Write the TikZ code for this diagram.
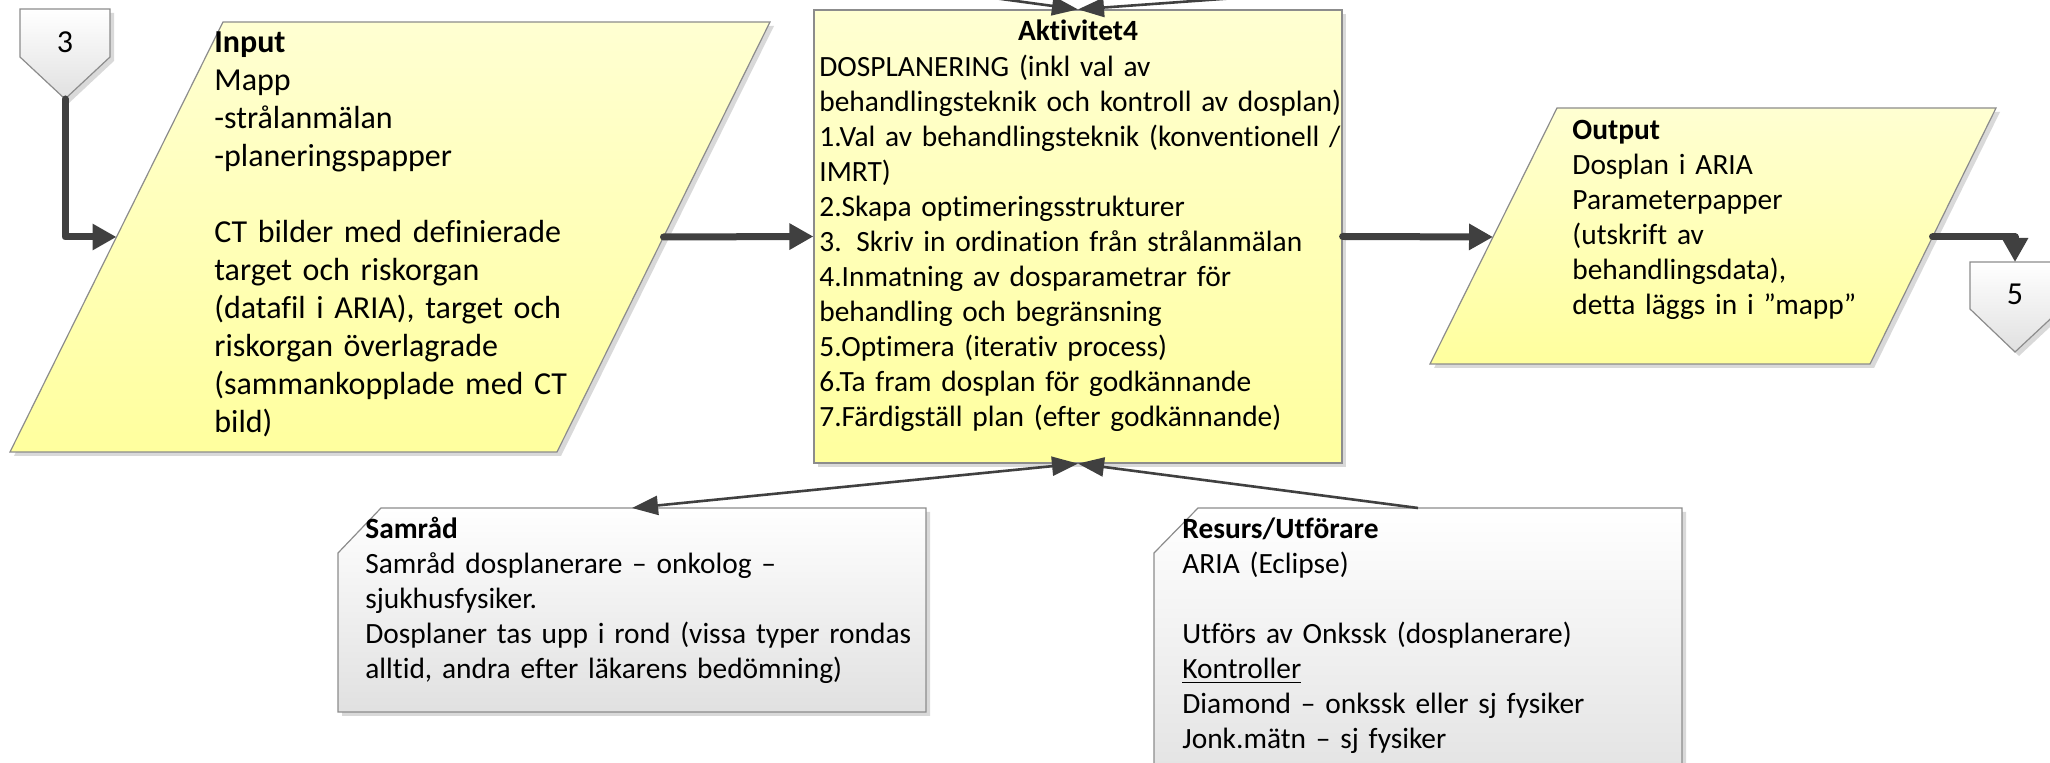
\documentclass[tikz,border=0pt]{standalone}
\usepackage{fontspec}
\setmainfont{Carlito}[Ligatures=NoCommon]
\usetikzlibrary{arrows.meta}
\usetikzlibrary{shadows}
\definecolor{flowgray}{HTML}{404040}
\definecolor{ytop}{HTML}{FFFFD2}
\definecolor{ybot}{HTML}{FFFF9E}
\definecolor{rimgray}{HTML}{8C8C8C}

\begin{document}
\begin{tikzpicture}[x=0.5pt, y=-0.5pt,
        shadowed/.style={drop shadow={shadow xshift=2pt, shadow yshift=-2pt, fill=black!15, opacity=1}},
        yellowshape/.style={shadowed, draw=rimgray, line width=0.6pt, top color=ytop, bottom color=ybot},
        grayshape/.style={shadowed, draw=rimgray, line width=0.6pt, top color=white, bottom color=black!12},
        txt/.style={anchor=base west, inner sep=0pt, align=left, text width=300pt,
                    font=\fontsize{14.7}{17.5}\selectfont},
        bigtxt/.style={txt, font=\fontsize{16}{19}\selectfont},
        nrtxt/.style={anchor=base, inner sep=0pt, font=\fontsize{16}{19}\selectfont},
        flow/.style={draw=flowgray, line width=3.5pt, line cap=round, line join=round,
                     -{Triangle[length=12pt,width=12.5pt]}},
        link/.style={draw=flowgray, line width=1.3pt, >={Triangle[length=13pt,width=9.5pt]}, ->}]

    \useasboundingbox (0,0) rectangle (2050,763);
    \clip (0,0) rectangle (2050,763);

    % off-page connectors
    \coordinate (srcL) at (713,-40);
    \coordinate (srcR) at (1763,-40);

    % connector pentagons
    \draw[grayshape] (20,9) -- (110,9) -- (110,57) -- (65,99) -- (20,57) -- cycle;
    \node[nrtxt] (nr3) at (65,53) {3};
    \coordinate (p3) at (65,99);

    \draw[grayshape] (1970,262) -- (2061,262) -- (2061,309) -- (2015,352) -- (1970,309) -- cycle;
    \node[nrtxt] (nr5) at (2015,305) {5};
    \coordinate (p5) at (2015,262);

    % input
    \draw[yellowshape] (223,22) -- (770,22) -- (557,452) -- (10,452) -- cycle;
    \coordinate (in-w) at (116.5,237);
    \coordinate (in-e) at (663.5,237);
    \node[bigtxt] (input) at (214,53) {\textbf{Input}\\ Mapp\\ -strålanmälan\\ -planeringspapper\\ \mbox{}\\
        CT bilder med definierade\\ target och riskorgan\\ (datafil i ARIA), target och\\
        riskorgan överlagrade\\ (sammankopplade med CT\\ bild)};

    % activity
    \node[yellowshape, rectangle, minimum width=264pt, minimum height=226.5pt, inner sep=0pt] (akt) at (1078,236.5) {};
    \node[anchor=base, inner sep=0pt, font=\fontsize{14.7}{17.5}\selectfont\bfseries] (akttitle) at (1078,41) {Aktivitet4};
    \node[txt] (aktbody) at (819,77) {DOSPLANERING (inkl val av\\ behandlingsteknik och kontroll av dosplan)\\
        1.Val av behandlingsteknik (konventionell /\\ IMRT)\\ 2.Skapa optimeringsstrukturer\\
        3. Skriv in ordination från strålanmälan\\ 4.Inmatning av dosparametrar för\\
        behandling och begränsning\\ 5.Optimera (iterativ process)\\
        6.Ta fram dosplan för godkännande\\ 7.Färdigställ plan (efter godkännande)};

    % output
    \draw[yellowshape] (1557,108) -- (1996,108) -- (1870,364) -- (1430,364) -- cycle;
    \coordinate (out-w) at (1493,237);
    \coordinate (out-e) at (1932.5,237);
    \node[txt] (output) at (1572,140) {\textbf{Output}\\ Dosplan i ARIA\\ Parameterpapper\\ (utskrift av\\
        behandlingsdata),\\ detta läggs in i ”mapp”};

    % notes
    \draw[grayshape] (381,508) -- (926,508) -- (926,712) -- (338,712) -- (338,553) -- cycle;
    \coordinate (sam-n) at (632,508);
    \node[txt] (samrad) at (365,539) {\textbf{Samråd}\\ Samråd dosplanerare – onkolog –\\ sjukhusfysiker.\\
        Dosplaner tas upp i rond (vissa typer rondas\\ alltid, andra efter läkarens bedömning)};

    \draw[grayshape] (1198,508) -- (1682,508) -- (1682,800) -- (1154,800) -- (1154,553) -- cycle;
    \coordinate (res-n) at (1418,508);
    \node[txt] (resurs) at (1182,539) {\textbf{Resurs/Utförare}\\ ARIA (Eclipse)\\ \mbox{}\\
        Utförs av Onkssk (dosplanerare)\\ \underline{Kontroller}\\ Diamond – onkssk eller sj fysiker\\
        Jonk.mätn – sj fysiker};

    % connectors
    \draw[flow] (p3) |- (in-w);
    \draw[flow] (in-e) -- (akt.west);
    \draw[flow] (akt.east) -- (out-w);
    \draw[flow] (out-e) -| (p5);
    \draw[link, <->] (sam-n) -- (akt.south);
    \draw[link] (res-n) -- (akt.south);
    \draw[link] (srcL) -- (akt.north);
    \draw[link] (srcR) -- (akt.north);
\end{tikzpicture}
\end{document}
